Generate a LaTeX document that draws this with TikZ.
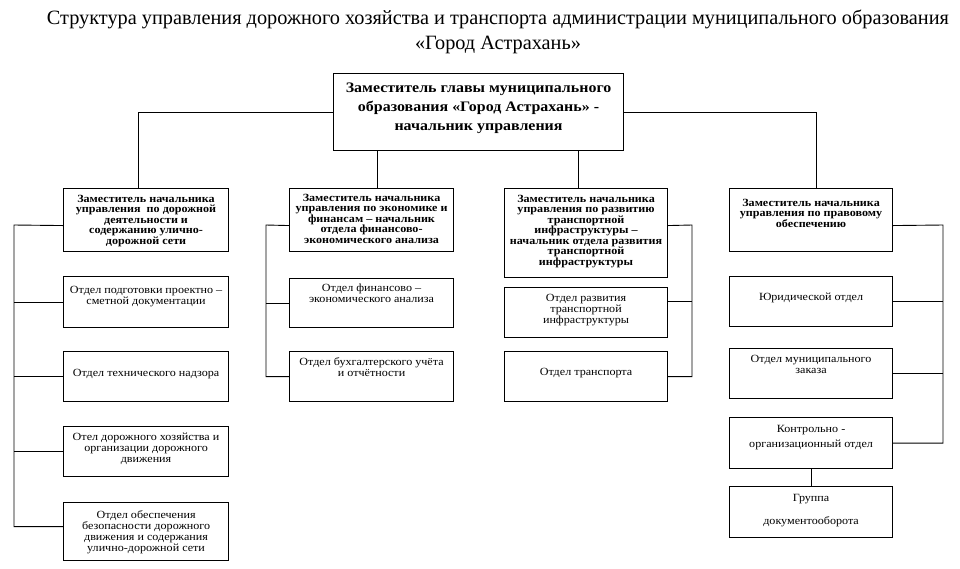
\documentclass[tikz,border=0pt]{standalone}
\usepackage{fontspec}
\setmainfont{Liberation Serif}
\newfontfamily\wideserif[FakeStretch=1.1]{Liberation Serif}
\usetikzlibrary{calc}
\newcommand{\cell}[4]{\parbox[c][#2pt][t]{#1pt}{\centering\vspace*{\dimexpr#3pt+1.5pt\relax}#4\par}}
\tikzset{
	unit/.style={draw, line width=1.1pt, inner sep=0pt, anchor=north west, font=\wideserif\fontsize{11}{11}\selectfont},
	head/.style={unit, font=\wideserif\bfseries\fontsize{11}{10.5}\selectfont},
	link/.style={line width=0.9pt}
}

\begin{document}
\begin{tikzpicture}[x=1pt, y=-1pt]
			%%%%% START %%%%%
			\useasboundingbox (0,0) rectangle (960,568);
			
			\node[align=center, font=\fontsize{20.3}{25}\selectfont] (title) at (498,31.5)
				{Структура управления дорожного хозяйства и транспорта администрации муниципального образования\\«Город Астрахань»};
			
			\node[unit, font=\wideserif\bfseries\fontsize{14.5}{19}\selectfont] (top) at (333,73)
				{\cell{290}{77}{8}{Заместитель главы муниципального\\образования «Город Астрахань» -\\начальник управления}};
			
			% road activity
			\node[head] (h1) at (63,188) {\cell{165}{63}{5}{Заместитель начальника\\управления \ по дорожной\\деятельности и\\содержанию улично-\\дорожной сети}};
			\node[unit] (b12) at (63,276) {\cell{165}{51}{8}{Отдел подготовки проектно –\\сметной документации}};
			\node[unit] (b13) at (63,351) {\cell{165}{50}{16}{Отдел технического надзора}};
			\node[unit] (b14) at (63,426) {\cell{165}{50}{5}{Отел дорожного хозяйства и\\организации дорожного\\движения}};
			\node[unit] (b15) at (63,502) {\cell{165}{58}{7}{Отдел обеспечения\\безопасности дорожного\\движения и содержания\\улично-дорожной сети}};
			
			% economy
			\node[head] (h2) at (289,188) {\cell{164}{63}{4}{Заместитель начальника\\управления по экономике и\\финансам – начальник\\отдела финансово-\\экономического анализа}};
			\node[unit] (b22) at (289,278) {\cell{164}{49}{4}{Отдел финансово –\\экономического анализа}};
			\node[unit] (b23) at (289,351) {\cell{164}{50}{5}{Отдел бухгалтерского учёта\\и отчётности}};
			
			% transport
			\node[head] (h3) at (504,188) {\cell{163}{89}{5}{Заместитель начальника\\управления по развитию\\транспортной\\инфраструктуры –\\начальник отдела развития\\транспортной\\инфраструктуры}};
			\node[unit] (b32) at (504,287) {\cell{163}{50}{5}{Отдел развития\\транспортной\\инфраструктуры}};
			\node[unit] (b33) at (504,351) {\cell{163}{50}{15}{Отдел транспорта}};
			
			% legal
			\node[head] (h4) at (729,188) {\cell{163}{63}{9}{Заместитель начальника\\управления по правовому\\обеспечению}};
			\node[unit] (b42) at (729,276) {\cell{163}{50}{15}{Юридической отдел}};
			\node[unit] (b43) at (729,348) {\cell{163}{50}{5}{Отдел муниципального\\заказа}};
			\node[unit] (b44) at (729,417) {\cell{163}{51}{6}{Контрольно -\\[4pt]организационный отдел}};
			\node[unit] (b45) at (729,486) {\cell{163}{51}{6}{Группа\\[12pt]документооборота}};
			
			% from the head
			\draw[link] (top.west) -| ([xshift=-7.5pt]h1.north);
			\draw[link] (top.east) -| ([xshift=5.5pt]h4.north);
			\draw[link] ([xshift=44pt]top.south west) -- ([xshift=44pt]top.south west |- h2.north);
			\draw[link] ([xshift=245pt]top.south west) -- ([xshift=245pt]top.south west |- h3.north);
			
			% spines
			\coordinate (sp1) at (14,225);
			\coordinate (sp2) at (266,225);
			\coordinate (sp3) at (692,225);
			\coordinate (sp4) at (943,225);
			
			\draw[link] ([yshift=-5.5pt]h1.west) -- (sp1) |- ([yshift=5pt]b15.west);
			\foreach \b in {b12,b13,b14}
				\draw[link] (\b.west) -- (\b.west -| sp1);
			
			\draw[link] ([yshift=-5.5pt]h2.west) -- (sp2) |- (b23.west);
			\draw[link] (b22.west) -- (b22.west -| sp2);
			
			\draw[link] ([yshift=7.5pt]h3.east) -- (sp3) |- (b33.east);
			\draw[link] ([yshift=11pt]b32.east) -- ([yshift=11pt]b32.east -| sp3);
			
			\draw[link] ([yshift=-5.5pt]h4.east) -- (sp4) |- (b44.east);
			\foreach \b in {b42,b43}
				\draw[link] (\b.east) -- (\b.east -| sp4);
			\draw[link] (b44.south) -- (b45.north);
			
			%%%%% END %%%%%
\end{tikzpicture}
\end{document}
